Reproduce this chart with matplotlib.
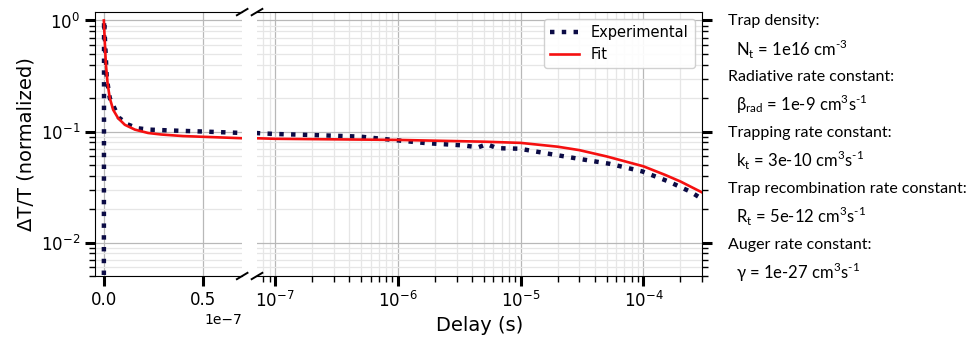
import numpy as np
import matplotlib
matplotlib.use('Agg')
import matplotlib.pyplot as plt
from matplotlib.ticker import ScalarFormatter

# Experimental data (delay in s, normalized dT/T)
t_exp = [0.0, 1e-10, 1.5e-9, 3e-9, 7.5e-9, 1.2e-8, 1.7e-8, 2.3e-8, 2.9e-8, 3.5e-8, 5e-8, 7.3e-8,
         1e-7, 2e-7, 4.9e-7, 9.1e-7, 1.7e-6, 3.4e-6, 4.5e-6, 5.3e-6, 6.4e-6, 9.8e-6,
         1.7e-5, 3.0e-5, 5.3e-5, 9.8e-5, 1.6e-4, 2.4e-4, 2.95e-4]
dt_exp = [0.004, 1.0, 0.3, 0.2, 0.134, 0.116, 0.107, 0.104, 0.103, 0.102, 0.1, 0.0966,
          0.095, 0.093, 0.090, 0.084, 0.0786, 0.075, 0.072, 0.077, 0.0708, 0.070,
          0.063, 0.0567, 0.0512, 0.0437, 0.0355, 0.0288, 0.025]

# Fit curve
t_fit = [0.0, 5e-10, 1e-9, 1.9e-9, 3e-9, 4.7e-9, 7.2e-9, 1.06e-8, 1.57e-8, 2.24e-8, 2.9e-8,
         4e-8, 5.5e-8, 7e-8, 1e-7, 1e-6, 5e-6, 1e-5, 2e-5, 3e-5,
         5e-5, 1e-4, 1.5e-4, 2e-4, 3e-4]
dt_fit = [1.0, 0.63, 0.41, 0.27, 0.2, 0.157, 0.132, 0.115, 0.104, 0.097, 0.094,
          0.091, 0.089, 0.087, 0.086, 0.084, 0.081, 0.079, 0.073, 0.068,
          0.0597, 0.0486, 0.0407, 0.0355, 0.0283]

params = [('Trap density:', r'N$_\mathregular{t}$ = 1e16 cm$^\text{-3}$'),
          ('Radiative rate constant:', r'$\mathregular{\beta_{rad}}$ = 1e-9 cm$^\mathregular{3}$s$^\text{-1}$'),
          ('Trapping rate constant:', r'k$_\mathregular{t}$ = 3e-10 cm$^\mathregular{3}$s$^\text{-1}$'),
          ('Trap recombination rate constant:', r'R$_\mathregular{t}$ = 5e-12 cm$^\mathregular{3}$s$^\text{-1}$'),
          ('Auger rate constant:', r'$\mathregular{\gamma}$ = 1e-27 cm$^\mathregular{3}$s$^\text{-1}$')]

plt.rcParams['mathtext.fontset'] = 'dejavusans'
plt.rcParams['mathtext.rm'] = 'Lato'

exp_color = '#0b0b45'
fit_color = '#f51010'


class FixedOrderFormatter(ScalarFormatter):
    # always show the left panel in units of 1e-7
    def _set_order_of_magnitude(self):
        self.orderOfMagnitude = -7

    def _set_format(self):
        self.format = '%1.1f'


fig = plt.figure(figsize=(9.75, 3.45), dpi=100)
ax1 = fig.add_axes([0.0974, 0.2, 0.151, 0.765])
ax2 = fig.add_axes([0.2636, 0.2, 0.4564, 0.765])

for ax in (ax1, ax2):
    ax.plot(t_exp, dt_exp, ':', color=exp_color, lw=3.2, label='Experimental')
    ax.plot(t_fit, dt_fit, '-', color=fit_color, lw=1.9, label='Fit')
    ax.set_yscale('log')
    ax.set_ylim(0.005, 1.19)
    ax.grid(True, which='major', color='#b8b8b8', lw=0.9)
    ax.grid(True, which='minor', color='#e6e6e6', lw=0.9)
    ax.tick_params(which='major', length=7, width=2.2, labelsize=12)
    ax.tick_params(which='minor', length=4, width=1)

ax1.set_xlim(-0.045e-7, 0.7e-7)
ax1.set_xticks([0, 0.5e-7])
ax1.xaxis.set_major_formatter(FixedOrderFormatter())
ax1.xaxis.get_offset_text().set_fontsize(10)
ax1.spines['right'].set_visible(False)
ax1.set_ylabel('ΔT/T (normalized)', fontsize=14)

ax2.set_xscale('log')
ax2.set_xlim(7.1e-8, 3.0e-4)
ax2.spines['left'].set_visible(False)
ax2.yaxis.tick_right()
ax2.yaxis.set_tick_params(which='both', labelright=False)
ax2.set_xlabel('Delay (s)', fontsize=14)
ax2.legend(loc='upper right', fontsize=10.5, framealpha=0.9)

# break marks
d = 0.012
kw = dict(color='k', clip_on=False, lw=1.4)
for ax, x0, dx in ((ax1, 1.0, 0.036), (ax2, 0.0, 0.012)):
    for y0 in (0.0, 1.0):
        ax.plot((x0 - dx, x0 + dx), (y0 - d, y0 + d), transform=ax.transAxes, **kw)

# parameter annotations
y = 0.939
for head, val in params:
    fig.text(0.747, y, head, fontsize=11.5, family='Lato', va='center')
    fig.text(0.755, y - 0.081, val, fontsize=12, family='Lato', va='center',
             math_fontfamily='custom')
    y -= 0.162

fig.savefig('out.png', dpi=100)
